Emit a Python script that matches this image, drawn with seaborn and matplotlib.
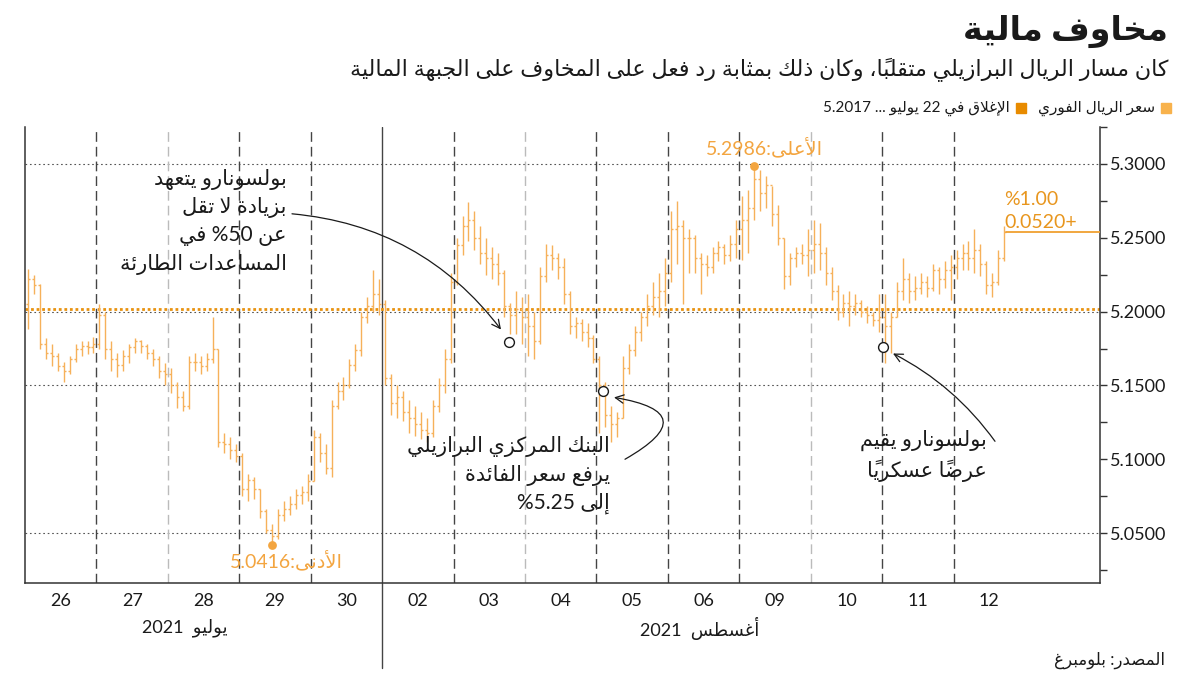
import unicodedata
import numpy as np
import pandas as pd
import matplotlib
matplotlib.use("Agg")
import matplotlib.pyplot as plt
from matplotlib import transforms
import seaborn as sns

sns.set_style("white")
plt.rcParams['font.family'] = ['Lato', 'DejaVu Sans']

# ---- data -------------------------------------------------------------
day_labels = ['26', '27', '28', '29', '30', '02', '03', '04', '05', '06', '09', '10', '11', '12']
bars_per_day = [12] * 13 + [9]
slots = 12

highs = [
    5.229, 5.225, 5.219, 5.182, 5.178, 5.172, 5.166, 5.170, 5.178, 5.180, 5.180, 5.183,
    5.205, 5.200, 5.180, 5.172, 5.174, 5.178, 5.182, 5.181, 5.178, 5.175, 5.170, 5.165,
    5.162, 5.152, 5.146, 5.170, 5.172, 5.170, 5.172, 5.196, 5.175, 5.118, 5.115, 5.110,
    5.104, 5.090, 5.088, 5.080, 5.066, 5.056, 5.066, 5.072, 5.075, 5.080, 5.082, 5.090,
    5.120, 5.118, 5.110, 5.140, 5.152, 5.156, 5.168, 5.178, 5.200, 5.210, 5.228, 5.222,
    5.208, 5.158, 5.150, 5.146, 5.140, 5.136, 5.132, 5.128, 5.140, 5.155, 5.175, 5.226,
    5.250, 5.265, 5.274, 5.268, 5.258, 5.250, 5.244, 5.240, 5.228, 5.206, 5.214, 5.210,
    5.212, 5.200, 5.230, 5.246, 5.245, 5.240, 5.236, 5.214, 5.196, 5.195, 5.192, 5.184,
    5.170, 5.152, 5.136, 5.132, 5.170, 5.178, 5.190, 5.200, 5.212, 5.220, 5.226, 5.236,
    5.268, 5.275, 5.262, 5.256, 5.252, 5.240, 5.238, 5.244, 5.248, 5.246, 5.252, 5.262,
    5.278, 5.282, 5.2986, 5.296, 5.292, 5.285, 5.272, 5.250, 5.240, 5.244, 5.246, 5.256,
    5.262, 5.260, 5.244, 5.230, 5.218, 5.212, 5.214, 5.212, 5.208, 5.204, 5.200, 5.212,
    5.212, 5.200, 5.220, 5.236, 5.226, 5.224, 5.226, 5.224, 5.232, 5.230, 5.234, 5.238,
    5.242, 5.246, 5.248, 5.256, 5.246, 5.234, 5.226, 5.242, 5.258,
]
lows = [
    5.188, 5.212, 5.175, 5.168, 5.163, 5.160, 5.152, 5.158, 5.166, 5.170, 5.171, 5.172,
    5.175, 5.168, 5.160, 5.156, 5.160, 5.165, 5.172, 5.172, 5.168, 5.163, 5.155, 5.150,
    5.145, 5.135, 5.133, 5.134, 5.160, 5.158, 5.160, 5.165, 5.108, 5.104, 5.100, 5.098,
    5.075, 5.072, 5.073, 5.060, 5.050, 5.0416, 5.046, 5.058, 5.062, 5.066, 5.070, 5.072,
    5.085, 5.098, 5.090, 5.088, 5.134, 5.140, 5.148, 5.160, 5.170, 5.192, 5.200, 5.198,
    5.150, 5.130, 5.128, 5.126, 5.118, 5.116, 5.114, 5.112, 5.115, 5.132, 5.145, 5.165,
    5.218, 5.238, 5.248, 5.242, 5.232, 5.225, 5.222, 5.218, 5.196, 5.185, 5.185, 5.178,
    5.170, 5.168, 5.178, 5.220, 5.228, 5.222, 5.205, 5.185, 5.182, 5.180, 5.176, 5.165,
    5.118, 5.122, 5.112, 5.115, 5.128, 5.158, 5.170, 5.180, 5.190, 5.198, 5.196, 5.204,
    5.220, 5.232, 5.205, 5.226, 5.226, 5.212, 5.224, 5.226, 5.234, 5.232, 5.234, 5.236,
    5.235, 5.240, 5.262, 5.268, 5.270, 5.258, 5.245, 5.215, 5.218, 5.230, 5.232, 5.224,
    5.226, 5.228, 5.218, 5.208, 5.194, 5.196, 5.190, 5.198, 5.196, 5.192, 5.190, 5.186,
    5.165, 5.172, 5.196, 5.208, 5.206, 5.208, 5.212, 5.210, 5.214, 5.212, 5.216, 5.208,
    5.222, 5.228, 5.228, 5.226, 5.224, 5.212, 5.210, 5.218, 5.234,
]
closes = [
    5.222, 5.218, 5.178, 5.172, 5.170, 5.163, 5.160, 5.168, 5.175, 5.177, 5.176, 5.178,
    5.198, 5.175, 5.168, 5.164, 5.170, 5.176, 5.180, 5.177, 5.172, 5.168, 5.160, 5.158,
    5.150, 5.142, 5.136, 5.166, 5.166, 5.163, 5.168, 5.175, 5.112, 5.110, 5.106, 5.102,
    5.080, 5.086, 5.080, 5.065, 5.052, 5.048, 5.062, 5.066, 5.070, 5.076, 5.078, 5.085,
    5.115, 5.104, 5.094, 5.136, 5.146, 5.150, 5.164, 5.174, 5.196, 5.204, 5.212, 5.205,
    5.155, 5.138, 5.142, 5.132, 5.128, 5.124, 5.120, 5.118, 5.136, 5.150, 5.168, 5.220,
    5.245, 5.258, 5.262, 5.250, 5.240, 5.236, 5.232, 5.226, 5.204, 5.198, 5.202, 5.196,
    5.190, 5.180, 5.224, 5.238, 5.236, 5.230, 5.212, 5.190, 5.192, 5.186, 5.182, 5.168,
    5.150, 5.130, 5.124, 5.128, 5.162, 5.174, 5.186, 5.196, 5.204, 5.210, 5.214, 5.226,
    5.256, 5.258, 5.250, 5.250, 5.236, 5.232, 5.230, 5.240, 5.244, 5.238, 5.246, 5.256,
    5.262, 5.270, 5.290, 5.280, 5.286, 5.266, 5.250, 5.224, 5.236, 5.240, 5.238, 5.242,
    5.246, 5.240, 5.226, 5.214, 5.200, 5.206, 5.204, 5.206, 5.200, 5.198, 5.194, 5.196,
    5.190, 5.196, 5.214, 5.222, 5.214, 5.216, 5.220, 5.216, 5.228, 5.222, 5.228, 5.230,
    5.236, 5.240, 5.236, 5.242, 5.232, 5.218, 5.220, 5.236, 5.2537,
]
first_open = 5.205
close_jul22 = 5.2017

event_x = [6.78, 8.09, 12.01]
event_y = [5.1797, 5.1459, 5.1763]

gridlines = [5.05, 5.15, 5.20, 5.30]
light_days = [2, 7, 11]
month_break = 5

# ---- Arabic text: presentation forms + simple right-to-left ordering ----
AR_FORMS = {
    'ء': (0xFE80, 1), 'آ': (0xFE81, 2), 'أ': (0xFE83, 2), 'ؤ': (0xFE85, 2), 'إ': (0xFE87, 2),
    'ئ': (0xFE89, 4), 'ا': (0xFE8D, 2), 'ب': (0xFE8F, 4), 'ة': (0xFE93, 2), 'ت': (0xFE95, 4),
    'ث': (0xFE99, 4), 'ج': (0xFE9D, 4), 'ح': (0xFEA1, 4), 'خ': (0xFEA5, 4), 'د': (0xFEA9, 2),
    'ذ': (0xFEAB, 2), 'ر': (0xFEAD, 2), 'ز': (0xFEAF, 2), 'س': (0xFEB1, 4), 'ش': (0xFEB5, 4),
    'ص': (0xFEB9, 4), 'ض': (0xFEBD, 4), 'ط': (0xFEC1, 4), 'ظ': (0xFEC5, 4), 'ع': (0xFEC9, 4),
    'غ': (0xFECD, 4), 'ف': (0xFED1, 4), 'ق': (0xFED5, 4), 'ك': (0xFED9, 4), 'ل': (0xFEDD, 4),
    'م': (0xFEE1, 4), 'ن': (0xFEE5, 4), 'ه': (0xFEE9, 4), 'و': (0xFEED, 2), 'ى': (0xFEEF, 2),
    'ي': (0xFEF1, 4),
}
LAM_ALEF = {'آ': 0xFEF5, 'أ': 0xFEF7, 'إ': 0xFEF9, 'ا': 0xFEFB}


def shape_run(word):
    clusters = []
    for ch in word:
        if unicodedata.combining(ch) and clusters:
            clusters[-1][1] += ch
        else:
            clusters.append([ch, ''])
    items = []
    i = 0
    while i < len(clusters):
        ch, mk = clusters[i]
        if ch == 'ل' and i + 1 < len(clusters) and clusters[i + 1][0] in LAM_ALEF:
            items.append((LAM_ALEF[clusters[i + 1][0]], 2, mk + clusters[i + 1][1]))
            i += 2
        else:
            start, n = AR_FORMS[ch]
            items.append((start, n, mk))
            i += 1
    glyphs = []
    for k, (start, n, mk) in enumerate(items):
        joins_prev = k > 0 and items[k - 1][1] == 4
        joins_next = n == 4 and k + 1 < len(items) and items[k + 1][1] >= 2
        if joins_prev and joins_next:
            f = 3
        elif joins_prev:
            f = 1
        elif joins_next:
            f = 2
        else:
            f = 0
        glyphs.append(chr(start + f) + mk)
    return ''.join(reversed(glyphs))


def rtl_line(line):
    tokens = []
    i = 0
    while i < len(line):
        ch = line[i]
        j = i + 1
        if ch in AR_FORMS:
            while j < len(line) and (line[j] in AR_FORMS or unicodedata.combining(line[j])):
                j += 1
            tokens.append(shape_run(line[i:j]))
        elif ch.isdigit():
            while j < len(line) and (line[j].isdigit() or
                                     (line[j] == '.' and j + 1 < len(line) and line[j + 1].isdigit())):
                j += 1
            tokens.append(line[i:j])
        else:
            tokens.append(ch)
        i = j
    return ''.join(reversed(tokens))


def ar(text):
    return '\n'.join(rtl_line(line) for line in text.split('\n'))


# ---- frame ------------------------------------------------------------
df = pd.DataFrame({
    'day': np.repeat(np.arange(len(day_labels)), bars_per_day),
    'slot': np.concatenate([np.arange(n) for n in bars_per_day]),
    'high': highs, 'low': lows, 'close': closes,
})
df['open'] = df['close'].shift(1).fillna(first_open)
df['x'] = df['day'] + (df['slot'] + 0.5) / slots

bar_col = '#F6B15A'
lab_col = '#F3A540'
chg_col = '#E8961E'
ref_col = '#E8920F'
ink = '#1a1a1a'

W, H = 1200, 675
fig = plt.figure(figsize=(12, 6.75), dpi=100)
ax = fig.add_axes([25 / W, 1 - 583 / H, 1075 / W, 456 / H])
day_px = 71.43
ax.set_xlim(0, 1075 / day_px)
ax.set_ylim(5.0162, 5.3243)

for g in gridlines:
    ax.axhline(g, color='#555555', lw=0.8, ls=(0, (1.5, 2.5)), zorder=1)
ax.axhline(close_jul22, color=ref_col, lw=2.0, ls=(0, (1, 1)), zorder=2)

for d in range(1, len(day_labels)):
    if d == month_break:
        ax.axvline(d, color='#444444', lw=1.0, zorder=1)
    elif d in light_days:
        ax.axvline(d, color='#bbbbbb', lw=1.0, ls=(0, (7, 3.6)), zorder=1)
    else:
        ax.axvline(d, color='#444444', lw=1.0, ls=(0, (7, 3.6)), zorder=1)
ax.plot([month_break, month_break], [0, -0.186], color='#444444', lw=1.0,
        transform=transforms.blended_transform_factory(ax.transData, ax.transAxes), clip_on=False)

tick_w = 0.028
ax.vlines(df['x'], df['low'], df['high'], color=bar_col, lw=1.0, zorder=3)
ax.hlines(df['open'], df['x'] - tick_w, df['x'], color=bar_col, lw=1.0, zorder=3)
ax.hlines(df['close'], df['x'], df['x'] + tick_w, color=bar_col, lw=1.0, zorder=3)

last = df.iloc[-1]
ax.plot([last['x'] + tick_w, ax.get_xlim()[1]], [last['close'], last['close']], color='#F0A030', lw=1.3, zorder=3)
chg = last['close'] - close_jul22
pct = chg / close_jul22 * 100
ax.text(last['x'], last['close'] + 0.0012, ar(f"{pct:.2f}%\n+{chg:.4f}"), color=chg_col, fontsize=14,
        ha='left', va='bottom', linespacing=1.4, zorder=5)

# extremes
i_max = df['high'].idxmax()
i_min = df['low'].idxmin()
ext = pd.DataFrame({'x': [df.loc[i_max, 'x'], df.loc[i_min, 'x']],
                    'y': [df.loc[i_max, 'high'], df.loc[i_min, 'low']]})
sns.scatterplot(data=ext, x='x', y='y', ax=ax, color=lab_col, s=40, linewidth=0, zorder=6, legend=False)
ax.text(ext['x'][0] + 0.15, ext['y'][0] + 0.006, ar(f"الأعلى:{ext['y'][0]:.4f}"), color=lab_col,
        fontsize=14, ha='center', va='bottom', zorder=6)
ax.text(ext['x'][1] + 0.2, ext['y'][1] - 0.003, ar(f"الأدنى:{ext['y'][1]:.4f}"), color=lab_col,
        fontsize=14, ha='center', va='top', zorder=6)

# events
ev = pd.DataFrame({'x': event_x, 'y': event_y})
sns.scatterplot(data=ev, x='x', y='y', ax=ax, facecolor='white', edgecolor=ink, s=50, linewidth=1.0,
                zorder=7, legend=False)

arrow = dict(arrowstyle='->,head_length=0.6,head_width=0.3', color=ink, lw=0.9, shrinkA=0, shrinkB=0)


def px(x, y):
    return ((x - 25) / day_px, 5.3 - (y - 163) * 0.05 / 74)


ax.text(*px(287, 168), ar("بولسونارو يتعهد\nبزيادة لا تقل\nعن 50% في\nالمساعدات الطارئة"),
        fontsize=15, color=ink, ha='right', va='top', ma='right', linespacing=1.45, zorder=8)
ax.annotate('', xy=px(501, 329), xytext=px(292, 213),
            arrowprops=dict(arrow, connectionstyle='arc3,rad=-0.22'), zorder=8)

ax.text(*px(610, 436), ar("البنك المركزي البرازيلي\nيرفع سعر الفائدة\nإلى 5.25%"),
        fontsize=15, color=ink, ha='right', va='top', ma='right', linespacing=1.45, zorder=8)
ax.annotate('', xy=px(614, 397), xytext=px(625, 459),
            arrowprops=dict(arrow, connectionstyle='arc3,rad=1.4'), zorder=8)

ax.text(*px(987, 430), ar("بولسونارو يقيم\nعرضاً عسكرياً"),
        fontsize=15, color=ink, ha='right', va='top', ma='right', linespacing=1.45, zorder=8)
ax.annotate('', xy=px(893, 353), xytext=px(995, 441),
            arrowprops=dict(arrow, connectionstyle='arc3,rad=0.12'), zorder=8)

# axes styling
ax.spines['top'].set_visible(False)
for s in ['left', 'right', 'bottom']:
    ax.spines[s].set_color('#333333')
    ax.spines[s].set_linewidth(1.1)
ax.yaxis.tick_right()
ax.set_yticks([5.05, 5.10, 5.15, 5.20, 5.25, 5.30])
ax.set_yticks([5.025, 5.075, 5.125, 5.175, 5.225, 5.275, 5.325], minor=True)
ax.set_yticklabels([f"{v:.4f}" for v in [5.05, 5.10, 5.15, 5.20, 5.25, 5.30]])
ax.tick_params(axis='y', which='both', direction='out', length=5, width=1, color='#333333',
               labelsize=13, labelcolor=ink, pad=2)
ax.set_xticks(np.arange(len(day_labels)) + 0.5)
ax.set_xticklabels(day_labels)
ax.tick_params(axis='x', length=0, labelsize=13, labelcolor=ink, pad=7)
ax.set_xlabel('')
ax.set_ylabel('')

blend = transforms.blended_transform_factory(ax.transData, ax.transAxes)
ax.text(2.23, -0.099, ar("يوليو  2021"), transform=blend, fontsize=13, color=ink, ha='center', va='center')
ax.text(9.44, -0.099, ar("أغسطس  2021"), transform=blend, fontsize=13, color=ink, ha='center', va='center')

# titles, legend, source
fig.text(1168 / W, 1 - 31 / H, ar("مخاوف مالية"), fontsize=24, fontweight='bold', color=ink,
         ha='right', va='center')
fig.text(1168 / W, 1 - 70 / H, ar("كان مسار الريال البرازيلي متقلباً، وكان ذلك بمثابة رد فعل على المخاوف على الجبهة المالية"),
         fontsize=16, color=ink, ha='right', va='center')

renderer = fig.canvas.get_renderer()


def legend_item(x_right, color, label):
    fig.patches.append(plt.Rectangle(((x_right - 10) / W, 1 - 113 / H), 10 / W, 10 / H, color=color,
                                     transform=fig.transFigure, figure=fig))
    t = fig.text((x_right - 16) / W, 1 - 108 / H, ar(label), fontsize=11, color=ink, ha='right', va='center')
    return t.get_window_extent(renderer).x0 - 12


xr = legend_item(1171, '#F8B24C', "سعر الريال الفوري")
legend_item(xr, '#E88B00', "الإغلاق في 22 يوليو ... 5.2017")

fig.text(1165 / W, 1 - 660 / H, ar("المصدر: بلومبرغ"), fontsize=12, color=ink, ha='right', va='center')

fig.savefig('out.png', dpi=100)
